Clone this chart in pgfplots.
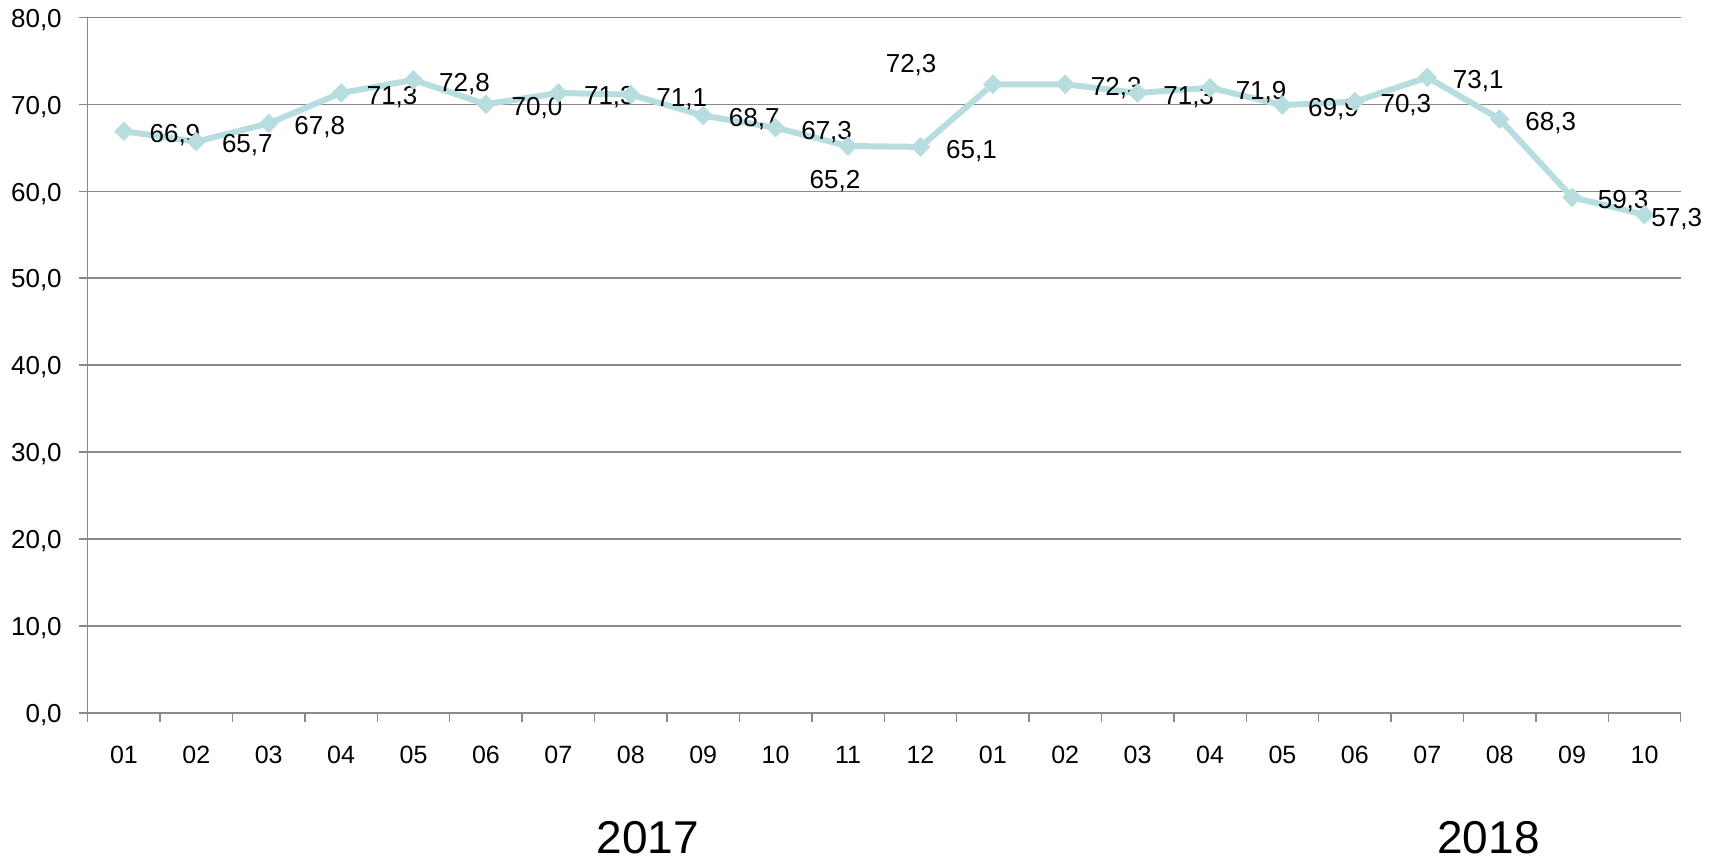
\documentclass[border=0pt]{standalone}
\usepackage{pgfplots}
\pgfplotsset{compat=1.18}
\usepackage{pgfplotstable}
\usepackage{fontspec}
\setmainfont{Liberation Sans}
\definecolor{linec}{RGB}{183,221,224}
\definecolor{gridc}{RGB}{137,137,137}

\pgfplotstableread{
x y dx dy
0 66.9 25.5 -5.65
1 65.7 25.5 -5.65
2 67.8 25.5 -5.65
3 71.3 25.5 -5.65
4 72.8 25.5 -5.65
5 70.0 25.5 -5.65
6 71.3 25.5 -5.65
7 71.1 25.5 -5.65
8 68.7 25.5 -5.65
9 67.3 25.5 -5.65
10 65.2 -6.5 -21.45
11 65.1 25.5 -5.65
12 72.3 -40.85 6.05
13 72.3 25.5 -5.65
14 71.3 25.5 -5.65
15 71.9 25.5 -5.65
16 69.9 25.5 -5.65
17 70.3 25.5 -5.65
18 73.1 25.5 -5.65
19 68.3 25.5 -5.65
20 59.3 25.5 -5.65
21 57.3 16.1 -5.65
}\datatable

\begin{document}
\begin{tikzpicture}
\path[use as bounding box] (0,0) rectangle (859pt,431pt);
\begin{axis}[
  at={(43.85pt,74.5pt)}, anchor=south west,
  scale only axis, width=796.5pt, height=347.85pt,
  xmin=-0.5, xmax=21.5, ymin=0, ymax=80,
  axis lines*=left,
  axis line style={-, draw=gridc, line width=0.7pt},
  ytick={0,10,...,80},
  ymajorgrids,
  grid style={draw=gridc, line width=0.7pt},
  xtick={-0.5,0.5,...,21.5},
  x tick label as interval,
  xticklabels={01,02,03,04,05,06,07,08,09,10,11,12,01,02,03,04,05,06,07,08,09,10},
  tick align=outside,
  major tick length=4.4pt,
  tick style={draw=gridc, line width=0.7pt},
  /pgf/number format/assume math mode=true,
  yticklabel={\pgfmathprintnumber[fixed,fixed zerofill,precision=1,use comma]{\tick}},
  yticklabel style={font=\fontsize{13}{15}\selectfont, anchor=base east, inner sep=0pt, xshift=-8.4pt, yshift=-4.9pt},
  xticklabel style={font=\fontsize{12.5}{14}\selectfont, anchor=base, inner sep=0pt, yshift=-20.6pt},
  clip=false,
]
\addplot[color=linec, line width=3pt,
  mark=square*, mark size=3.3pt,
  mark options={rotate=45, fill=linec, draw=linec, line width=0.3pt},
  point meta=y,
  nodes near coords={\pgfmathprintnumber[fixed,fixed zerofill,precision=1,use comma]{\pgfplotspointmeta}},
  visualization depends on={\thisrow{dx}\as\dx},
  visualization depends on={\thisrow{dy}\as\dy},
  every node near coord/.append style={font=\fontsize{13}{15}\selectfont, text=black, anchor=base, inner sep=0pt, xshift=\dx pt, yshift=\dy pt},
] table[x=x,y=y] {\datatable};
\end{axis}
\node[font=\fontsize{23}{27}\selectfont, anchor=base, inner sep=0pt] at (324pt,4.27pt) {2017};
\node[font=\fontsize{23}{27}\selectfont, anchor=base, inner sep=0pt] at (744.25pt,4.27pt) {2018};
\end{tikzpicture}
\end{document}
